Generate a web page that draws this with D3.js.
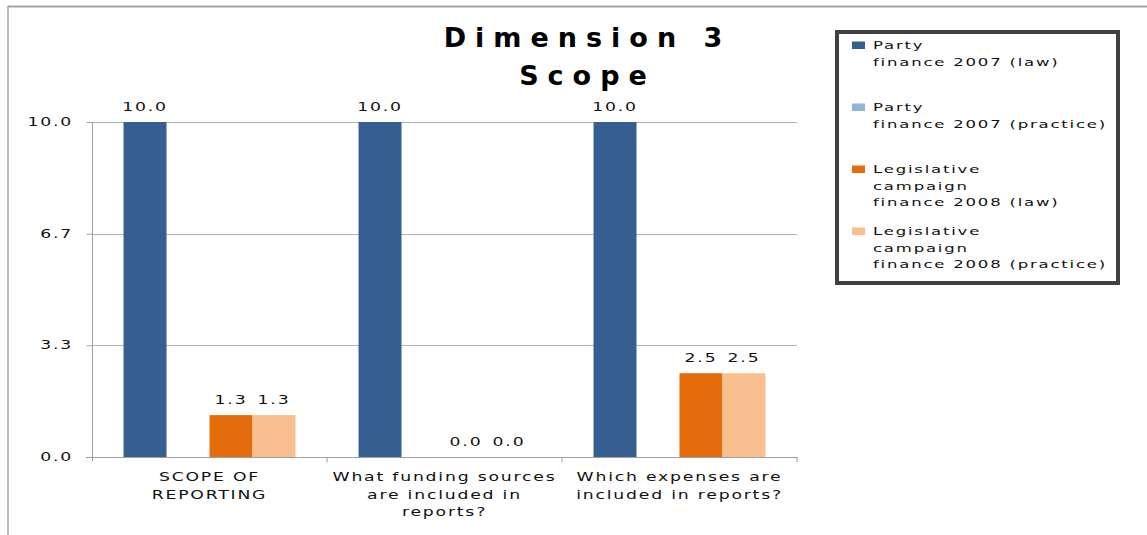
<!DOCTYPE html>
<html>
<head>
<meta charset="utf-8">
<script src="https://cdn.jsdelivr.net/npm/d3@7"></script>
<style>
  html, body { margin: 0; padding: 0; background: #fff; }
  svg { display: block; }
</style>
</head>
<body>
<svg id="chart" width="1147" height="535"></svg>
<script>
// ---------- data ----------
const chartTitle = ["Dimension 3", "Scope"];
const categories = [
  "SCOPE OF\nREPORTING",
  "What funding sources\nare included in\nreports?",
  "Which expenses are\nincluded in reports?"
];
const seriesNames = [
  "Party\nfinance 2007 (law)",
  "Party\nfinance 2007 (practice)",
  "Legislative\ncampaign\nfinance 2008 (law)",
  "Legislative\ncampaign\nfinance 2008 (practice)"
];
const partyLaw2007 = [10.0, 10.0, 10.0];
const partyPractice2007 = [null, null, null];
const legislativeLaw2008 = [1.25, 0.0, 2.5];
const legislativePractice2008 = [1.25, 0.0, 2.5];
const seriesValues = [partyLaw2007, partyPractice2007, legislativeLaw2008, legislativePractice2008];
const seriesColors = ["#365F91", "#95B3D7", "#E46C0A", "#F9BF8F"];
const yTickValues = [0, 10 / 3, 20 / 3, 10];
const yTickLabels = ["0.0", "3.3", "6.7", "10.0"];

// ---------- layout ----------
const svg = d3.select("#chart");
const plot = { left: 92, right: 797, top: 122, bottom: 457 };
const STRETCH = 1.5;
const FONT = "'DejaVu Sans', Verdana, sans-serif";
const textColor = "#111";

function stretchedText(sel, x, y, str, opts = {}) {
  return sel.append("text")
    .attr("transform", `translate(${x},${y}) scale(${opts.stretch || STRETCH},1)`)
    .attr("text-anchor", opts.anchor || "start")
    .attr("font-family", FONT)
    .attr("font-size", opts.size || 11.5)
    .attr("letter-spacing", opts.spacing != null ? opts.spacing : 1.2)
    .attr("fill", textColor)
    .text(str);
}

// outer frame
svg.append("line").attr("x1", 8).attr("x2", 1147).attr("y1", 6.5).attr("y2", 6.5)
  .attr("stroke", "#a6a6a6").attr("stroke-width", 2);
svg.append("line").attr("x1", 8).attr("x2", 8).attr("y1", 6).attr("y2", 535)
  .attr("stroke", "#a6a6a6").attr("stroke-width", 1.5);

// scales
const x0 = d3.scaleBand().domain(categories).range([plot.left, plot.right]).padding(0);
const x1 = d3.scaleBand().domain(d3.range(seriesNames.length)).range([0, x0.bandwidth()])
  .paddingInner(0).paddingOuter(0.733);
const y = d3.scaleLinear().domain([0, 10]).range([plot.bottom, plot.top]);

// gridlines
svg.append("g").selectAll("line").data(yTickValues.filter(v => v > 0)).join("line")
  .attr("x1", plot.left).attr("x2", plot.right)
  .attr("y1", d => Math.round(y(d)) + 0.5).attr("y2", d => Math.round(y(d)) + 0.5)
  .attr("stroke", "#b4b4b4").attr("stroke-width", 1);

// y axis
const yAxis = d3.axisLeft(y).tickValues(yTickValues).tickSize(6).tickFormat("");
const yg = svg.append("g").attr("transform", `translate(${plot.left + 0.5},0)`).call(yAxis);
yg.select(".domain").attr("stroke", "#a0a0a0").attr("d", `M0,${plot.top}V${plot.bottom + 4}`);
yg.selectAll(".tick line").attr("stroke", "#a0a0a0");
yTickValues.forEach((v, i) => {
  stretchedText(svg, 73, y(v) + 4, yTickLabels[i], { anchor: "end" });
});

// bars
seriesValues.forEach((vals, si) => {
  categories.forEach((c, ci) => {
    const v = vals[ci];
    if (v == null) return;
    const bx = x0(c) + x1(si);
    const bw = x1.bandwidth();
    if (v > 0) {
      svg.append("rect")
        .attr("x", bx).attr("y", y(v))
        .attr("width", bw).attr("height", y(0) - y(v))
        .attr("fill", seriesColors[si]);
    }
    stretchedText(svg, bx + bw / 2, y(v) - 11, d3.format(".1f")(v), { anchor: "middle" });
  });
});

// x axis
const xg = svg.append("g").attr("transform", `translate(0,${plot.bottom + 0.5})`);
xg.append("line").attr("x1", plot.left - 6).attr("x2", plot.right + 1)
  .attr("stroke", "#a0a0a0");
const boundaries = categories.map(c => x0(c)).concat([plot.right]);
xg.selectAll("line.tk").data(boundaries.slice(1)).join("line").attr("class", "tk")
  .attr("x1", d => d).attr("x2", d => d).attr("y1", 0).attr("y2", 5)
  .attr("stroke", "#a0a0a0");

// category labels
categories.forEach(c => {
  const cx = x0(c) + x0.bandwidth() / 2;
  c.split("\n").forEach((line, li) => {
    stretchedText(svg, cx, plot.bottom + 24 + li * 17.5, line, { anchor: "middle" });
  });
});

// title
chartTitle.forEach((t, i) => {
  svg.append("text")
    .attr("x", 583 + 4.5).attr("y", 47 + i * 38)
    .attr("text-anchor", "middle")
    .attr("font-family", FONT)
    .attr("font-weight", "bold")
    .attr("font-size", 27)
    .attr("letter-spacing", 9)
    .attr("fill", "#000")
    .text(t);
});

// legend
const legend = svg.append("g");
legend.append("rect").attr("x", 837).attr("y", 32).attr("width", 281).attr("height", 251)
  .attr("fill", "#fff").attr("stroke", "#404040").attr("stroke-width", 4);
seriesNames.forEach((name, i) => {
  const base = 49 + i * 62;
  legend.append("rect").attr("x", 852).attr("y", base - 7.5).attr("width", 13).attr("height", 7.5)
    .attr("fill", seriesColors[i]);
  name.split("\n").forEach((line, li) => {
    stretchedText(legend, 873, base + li * 16.7, line, { size: 11 });
  });
});
</script>
</body>
</html>
